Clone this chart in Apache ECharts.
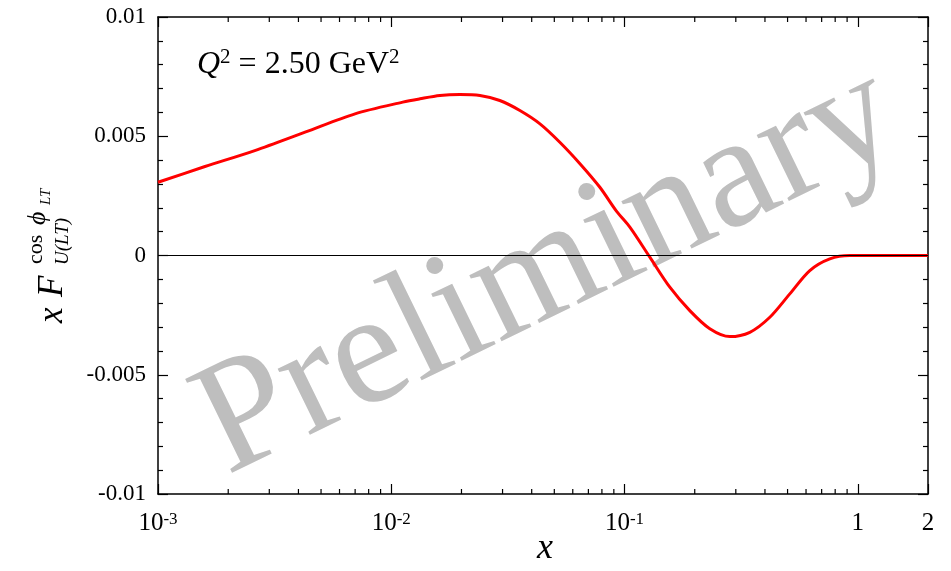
<!DOCTYPE html>
<html>
<head>
<meta charset="utf-8">
<script src="https://cdn.jsdelivr.net/npm/echarts@6/dist/echarts.min.js"></script>
<style>html,body{margin:0;padding:0;background:#fff}#c{width:951px;height:571px}</style>
</head>
<body>
<div id="c"></div>
<script>
// ---- data ----
var xValues = [0.001, 0.00159, 0.0026, 0.00427, 0.00699, 0.0112, 0.01327, 0.01617, 0.0197, 0.024, 0.0292, 0.0356, 0.0434, 0.0528, 0.0644, 0.0784, 0.0925, 0.1054, 0.1284, 0.1564, 0.1905, 0.2321, 0.2828, 0.3445, 0.4197, 0.5112, 0.6227, 0.7586, 0.924, 1.2, 1.6, 2.0];
var yValues = [0.00307, 0.00373, 0.0044, 0.00517, 0.00594, 0.00643, 0.00657, 0.00671, 0.00675, 0.00671, 0.0065, 0.00608, 0.00552, 0.00475, 0.00385, 0.00286, 0.00185, 0.00119, -0.00007, -0.00133, -0.00231, -0.00307, -0.0034, -0.00322, -0.00259, -0.00161, -0.00063, -0.00014, 0, 0, 0, 0];
var xMinorTicks = [0.002,0.003,0.004,0.005,0.006,0.007,0.008,0.009,0.02,0.03,0.04,0.05,0.06,0.07,0.08,0.09,0.2,0.3,0.4,0.5,0.6,0.7,0.8,0.9];
var xTickLabels = {'-3': '10{sup|-3}', '-2': '10{sup|-2}', '-1': '10{sup|-1}', '0': '1'};
var yTickLabels = {'-0.01': '-0.01', '-0.005': '-0.005', '0': '0', '0.005': '0.005', '0.01': '0.01'};
var xAxisTitle = 'x';
var annotation = '{i|Q}{sup|2} = 2.50 GeV{sup|2}';
var watermark = 'Preliminary';

var serif = '"Liberation Serif", "DejaVu Serif", serif';
var chart = echarts.init(document.getElementById('c'), null, {renderer: 'canvas'});

function xFmt(v) {
  if (Math.abs(v - 2) < 1e-6) return '2';
  var k = Math.round(Math.log10(v));
  return xTickLabels[String(k)] || '';
}
function yFmt(v) {
  var key = String(Math.round(v * 1000) / 1000);
  return yTickLabels[key] !== undefined ? yTickLabels[key] : '';
}
function xAxisOpt(pos, showLabel) {
  return {
    type: 'log', min: 0.001, max: 2, position: pos,
    axisLine: {show: true, onZero: false, lineStyle: {color: '#000', width: 1.5}},
    axisTick: {show: true, inside: true, length: 10, lineStyle: {color: '#000', width: 1.2}},
    splitLine: {show: false},
    axisLabel: {show: showLabel, formatter: xFmt, fontFamily: serif, fontSize: 25, color: '#000', margin: 17,
      rich: {sup: {fontFamily: serif, fontSize: 17, verticalAlign: 'top', lineHeight: 16, padding: [0, 0, 7, 0]}}}
  };
}
function yAxisOpt(pos, showLabel) {
  return {
    type: 'value', min: -0.01, max: 0.01, interval: 0.005, position: pos,
    axisLine: {show: true, lineStyle: {color: '#000', width: 1.5}},
    axisTick: {show: true, inside: true, length: 10, lineStyle: {color: '#000', width: 1.2}},
    minorTick: {show: true, splitNumber: 5, length: 5, lineStyle: {color: '#000', width: 1.2}},
    splitLine: {show: false},
    axisLabel: {show: showLabel, formatter: yFmt, fontFamily: serif, fontSize: 23, color: '#000', margin: 12}
  };
}

var option = {
  animation: false,
  backgroundColor: '#fff',
  grid: {left: 158, right: 23, top: 17, bottom: 77},
  xAxis: [xAxisOpt('bottom', true), xAxisOpt('top', false)],
  yAxis: [yAxisOpt('left', true), yAxisOpt('right', false)],
  graphic: [
    {type: 'text', z: 0, x: 548, y: 272, rotation: 26 * Math.PI / 180,
     style: {text: watermark, font: '160px ' + serif, fill: '#bebebe', align: 'center', verticalAlign: 'middle'}},
    {type: 'text', z: 10, x: 545, y: 549,
     style: {text: xAxisTitle, font: 'italic 36px ' + serif, fill: '#000', align: 'center', verticalAlign: 'middle'}},
    {type: 'text', z: 10, left: 197, top: 47,
     style: {text: annotation, font: '32px ' + serif, fill: '#000',
       rich: {i: {fontStyle: 'italic', fontSize: 32, fontFamily: serif, lineHeight: 36},
              sup: {fontSize: 21, fontFamily: serif, verticalAlign: 'top', lineHeight: 21}}}},
    {type: 'group', x: 50, y: 255, rotation: Math.PI / 2, z: 10, children: [
      {type: 'text', style: {text: 'x', x: -68, y: 3, font: 'italic 35px ' + serif, fill: '#000', verticalAlign: 'middle'}},
      {type: 'text', style: {text: 'F', x: -42, y: 3, font: 'italic 35px ' + serif, fill: '#000', verticalAlign: 'middle'}},
      {type: 'text', style: {text: 'cos', x: -9, y: -14, font: '22px ' + serif, fill: '#000', verticalAlign: 'middle'}},
      {type: 'text', style: {text: 'ϕ', x: 30, y: -12, font: 'italic 26px ' + serif, fill: '#000', verticalAlign: 'middle'}},
      {type: 'text', style: {text: 'LT', x: 50, y: -4, font: 'italic 15px ' + serif, fill: '#000', verticalAlign: 'middle'}},
      {type: 'text', style: {text: 'U(LT)', x: -10, y: 13, font: 'italic 19px ' + serif, fill: '#000', verticalAlign: 'middle'}}
    ]}
  ],
  series: [
    {
      type: 'line', z: 3,
      data: xValues.map(function (x, i) { return [x, yValues[i]]; }),
      showSymbol: false, smooth: 0.3,
      lineStyle: {color: '#ff0000', width: 3},
      markLine: {silent: true, symbol: 'none', label: {show: false},
        lineStyle: {color: '#000', width: 1, type: 'solid'}, data: [{yAxis: 0}]}
    },
    {
      type: 'custom', z: 4, silent: true,
      data: xMinorTicks.map(function (x) { return [x, 0]; }),
      renderItem: function (params, api) {
        var b = api.coord([api.value(0), -0.01]);
        var t = api.coord([api.value(0), 0.01]);
        return {type: 'group', children: [
          {type: 'line', shape: {x1: b[0], y1: b[1], x2: b[0], y2: b[1] - 5}, style: {stroke: '#000', lineWidth: 1.2}},
          {type: 'line', shape: {x1: t[0], y1: t[1], x2: t[0], y2: t[1] + 5}, style: {stroke: '#000', lineWidth: 1.2}}
        ]};
      }
    }
  ]
};
chart.setOption(option);
</script>
</body>
</html>
